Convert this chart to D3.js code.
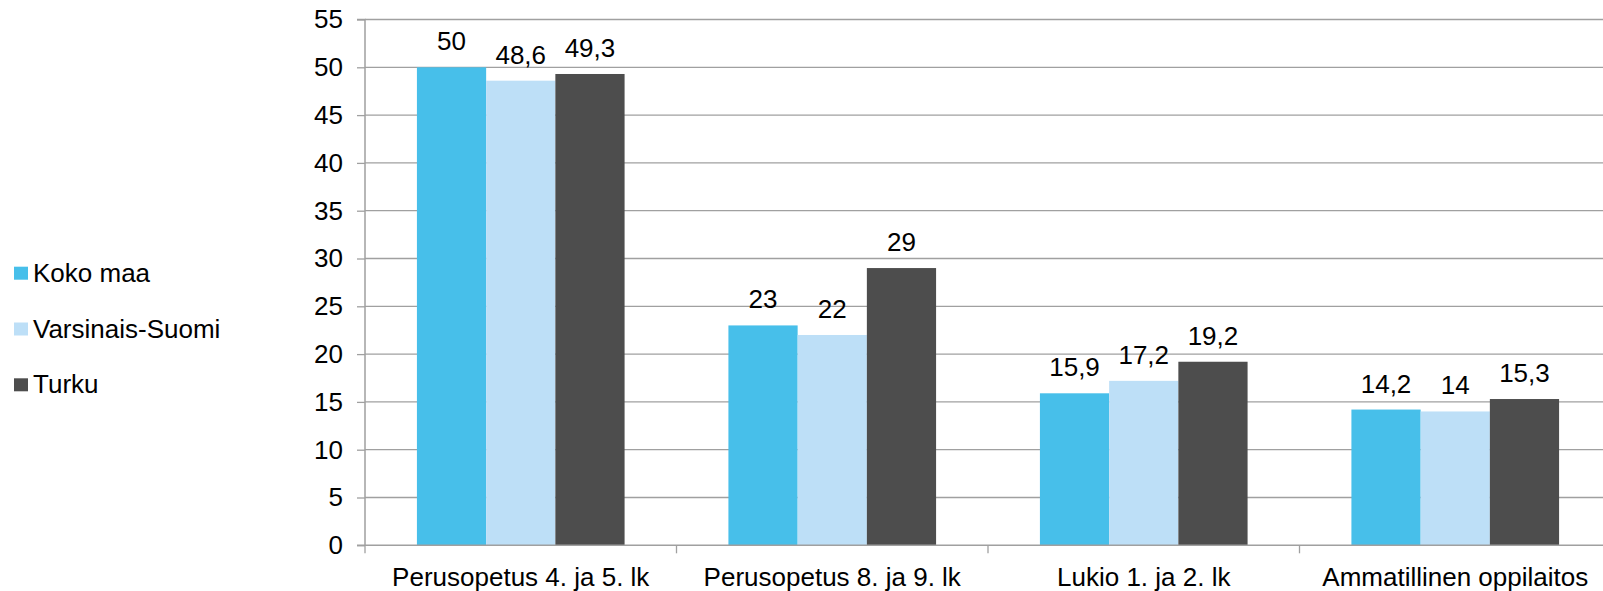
<!DOCTYPE html>
<html><head><meta charset="utf-8">
<script src="https://cdn.jsdelivr.net/npm/d3@7"></script>
<style>body{margin:0;background:#fff;}svg{display:block;font-family:"Liberation Sans",Arial,sans-serif;}</style>
</head><body>
<svg id="c" width="1603" height="591"></svg>
<script>
const categories = ["Perusopetus 4. ja 5. lk","Perusopetus 8. ja 9. lk","Lukio 1. ja 2. lk","Ammatillinen oppilaitos"];
const seriesNames = ["Koko maa","Varsinais-Suomi","Turku"];
const kokoMaa = [50, 23, 15.9, 14.2];
const varsinaisSuomi = [48.6, 22, 17.2, 14];
const turku = [49.3, 29, 19.2, 15.3];
const yTicks = [0,5,10,15,20,25,30,35,40,45,50,55];
const colors = ["#47BFEA","#BDDFF7","#4D4D4D"];

(function(){
const FS = 26;
const series = [kokoMaa, varsinaisSuomi, turku];
const svg = d3.select("#c");
const pl = 365, pr = 1611, pt = 19.5, pb = 545.3;

const x = d3.scaleBand().domain(categories).range([pl, pr]).paddingInner(0).paddingOuter(0);
const y = d3.scaleLinear().domain([0,55]).range([pb, pt]);
const inner = x.bandwidth() / (3 + 1.5);
const x1 = d3.scaleBand().domain(seriesNames).range([0, inner*3]);

// gridlines
svg.append("g").selectAll("line").data(yTicks.filter(d=>d>0)).join("line")
  .attr("x1", pl).attr("x2", 1603).attr("y1", d=>y(d)).attr("y2", d=>y(d))
  .attr("stroke", "#A0A0A0").attr("stroke-width", 1.3);

// bars
seriesNames.forEach((s, si) => {
  svg.append("g").selectAll("rect").data(categories).join("rect")
    .attr("x", (c) => x(c) + inner*0.75 + x1(s))
    .attr("width", x1.bandwidth())
    .attr("y", (c,i) => y(series[si][i]))
    .attr("height", (c,i) => pb - y(series[si][i]))
    .attr("fill", colors[si]);
  svg.append("g").selectAll("text").data(categories).join("text")
    .attr("x", (c) => x(c) + inner*0.75 + x1(s) + x1.bandwidth()/2)
    .attr("y", (c,i) => y(series[si][i]) - 17)
    .attr("text-anchor", "middle").attr("font-size", FS).attr("fill", "#000")
    .text((c,i) => String(series[si][i]).replace(".", ","));
});

// y axis
const yAxis = d3.axisLeft(y).tickValues(yTicks).tickSize(8).tickPadding(14).tickFormat(d=>d);
const gy = svg.append("g").attr("transform", `translate(${pl},0)`).call(yAxis);
gy.select(".domain").attr("stroke", "#A0A0A0").attr("stroke-width", 1.5).attr("d", `M-8,${pt}H0V${pb}H-8`);
gy.selectAll(".tick line").attr("stroke", "#A0A0A0").attr("stroke-width", 1.3);
gy.selectAll(".tick text").attr("font-size", FS).attr("fill", "#000").attr("font-family", "Liberation Sans, Arial, sans-serif");

// x axis
svg.append("line").attr("x1", pl).attr("x2", 1603).attr("y1", pb).attr("y2", pb)
  .attr("stroke", "#A0A0A0").attr("stroke-width", 1.5);
const bounds = categories.map(c => x(c)).concat([x(categories[3]) + x.bandwidth()]);
svg.append("g").selectAll("line").data(bounds.filter(b=>b<1603)).join("line")
  .attr("x1", d=>d).attr("x2", d=>d).attr("y1", pb).attr("y2", pb+8)
  .attr("stroke", "#A0A0A0").attr("stroke-width", 1.3);
svg.append("g").selectAll("text").data(categories).join("text")
  .attr("x", c => x(c) + x.bandwidth()/2).attr("y", 586)
  .attr("text-anchor", "middle").attr("font-size", FS).attr("fill", "#000").text(c=>c);

// legend
const lg = svg.append("g");
seriesNames.forEach((s, i) => {
  const ty = 266.7 + i*55.8;
  lg.append("rect").attr("x", 14).attr("y", ty).attr("width", 14).attr("height", 13).attr("fill", colors[i]);
  lg.append("text").attr("x", 33).attr("y", ty + 15).attr("font-size", FS).attr("fill", "#000").text(s);
});
})();
</script>
</body></html>
